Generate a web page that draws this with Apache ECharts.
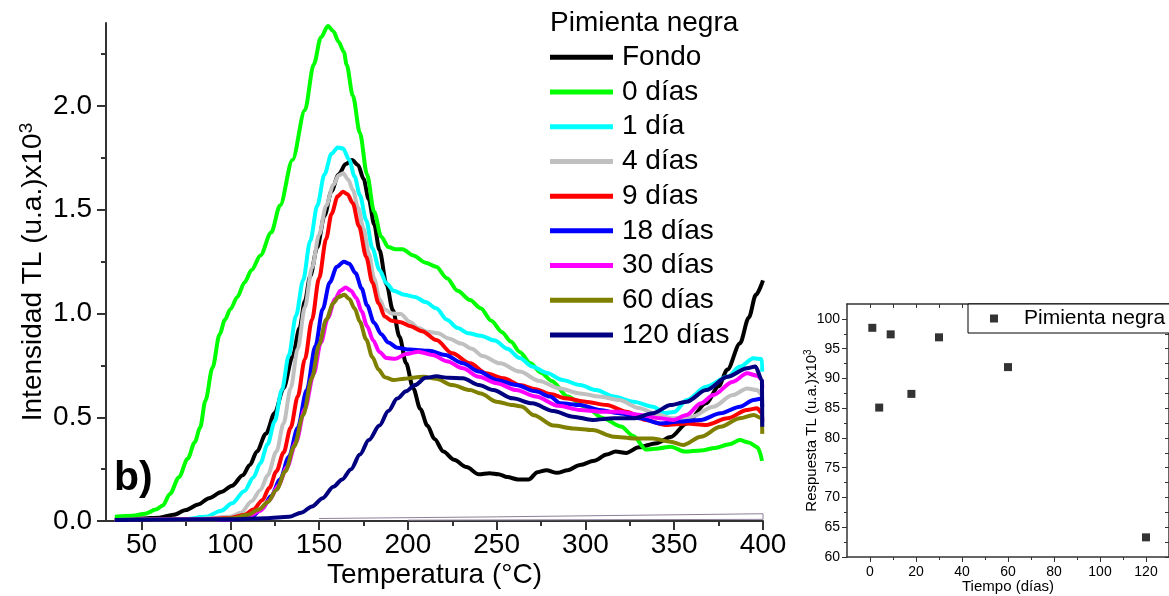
<!DOCTYPE html>
<html>
<head>
<meta charset="utf-8">
<script src="https://cdn.jsdelivr.net/npm/echarts@6/dist/echarts.min.js"></script>
<style>
  html, body { margin: 0; padding: 0; background: #ffffff; }
  #chart { width: 1169px; height: 596px; }
</style>
</head>
<body>
<div id="chart"></div>
<script>
// ---- Glow curves (temperature °C, intensity x10^3) ----
const seriesNames = ['Fondo', '0 días', '1 día', '4 días', '9 días', '18 días', '30 días', '60 días', '120 días'];
const seriesColors = ['#000000', '#00ff00', '#00ffff', '#c0c0c0', '#ff0000', '#0000ff', '#ff00ff', '#808000', '#000080'];

const fondo = [[35,0.01],[50,0.012],[60,0.016],[68,0.03],[75,0.053],[82,0.08],[88,0.11],[95,0.14],[101,0.17],[107,0.22],[111,0.27],[115,0.335],[120,0.42],[125,0.52],[130,0.64],[135,0.79],[139,0.93],[142,1.06],[145,1.18],[149,1.32],[153,1.47],[157,1.59],[161,1.67],[165,1.72],[168.5,1.74],[172,1.715],[175,1.65],[178,1.55],[181,1.43],[184,1.306],[188,1.14],[191.5,1.017],[195.3,0.888],[199,0.76],[203,0.64],[207,0.54],[211,0.46],[215,0.395],[220,0.335],[226,0.295],[233,0.26],[240,0.225],[246,0.23],[251,0.225],[256,0.212],[262,0.2],[268,0.2],[273,0.235],[278,0.245],[284,0.232],[290,0.245],[297,0.27],[305,0.29],[312,0.32],[317,0.335],[323,0.328],[330,0.355],[340,0.375],[348,0.405],[357,0.47],[368,0.567],[375,0.65],[380,0.73],[387,0.856],[392,0.98],[396,1.09],[400,1.16]];
const dias0 = [[35,0.02],[45,0.025],[52,0.035],[58,0.055],[62,0.075],[66,0.13],[71,0.21],[76,0.3],[80,0.38],[83,0.45],[86,0.58],[90,0.74],[94,0.9],[97,0.97],[100,1.02],[104,1.08],[108,1.15],[112,1.21],[117,1.28],[123,1.39],[128,1.52],[135,1.74],[142,1.98],[147,2.2],[151,2.33],[155,2.385],[158,2.36],[161,2.31],[164,2.26],[165.5,2.2],[169,2.05],[173,1.87],[177,1.67],[181,1.49],[185,1.37],[189,1.32],[193,1.31],[197,1.31],[203,1.28],[210,1.245],[216,1.225],[222,1.17],[228,1.11],[235,1.065],[241,1.025],[247,0.965],[253,0.91],[258,0.865],[263,0.815],[269,0.76],[275,0.715],[281,0.675],[290,0.6],[300,0.55],[310,0.495],[320,0.455],[327,0.41],[334,0.345],[341,0.35],[348,0.358],[356,0.335],[365,0.34],[373,0.352],[381,0.37],[387,0.39],[392,0.378],[397,0.355],[399.5,0.29]];
const dias1 = [[35,0.005],[60,0.006],[75,0.01],[86,0.02],[95,0.05],[101,0.085],[108,0.145],[113,0.21],[117,0.28],[121,0.37],[125,0.48],[129,0.63],[133,0.8],[137,0.99],[141,1.16],[145,1.35],[149,1.52],[153,1.67],[157,1.77],[160.5,1.80],[163.5,1.795],[167,1.74],[170,1.66],[173,1.57],[176.5,1.45],[180,1.315],[184,1.21],[188,1.145],[192,1.11],[198,1.09],[204,1.08],[210,1.055],[216,1.025],[222,0.97],[228,0.93],[234,0.905],[241,0.893],[249,0.87],[256,0.83],[263,0.785],[270,0.745],[278,0.715],[287,0.68],[297,0.655],[306,0.631],[316,0.6],[327,0.575],[338,0.551],[345,0.52],[350,0.525],[357,0.583],[368,0.647],[380,0.695],[387,0.744],[394.7,0.784],[399.4,0.78],[399.6,0.72]];
const dias4 = [[35,0.005],[80,0.008],[100,0.02],[106,0.04],[112,0.095],[117,0.15],[121,0.22],[126,0.335],[130,0.47],[134,0.64],[138,0.83],[142,1.03],[146,1.22],[150,1.38],[154,1.52],[158,1.62],[161,1.665],[163.5,1.676],[166.5,1.645],[169,1.595],[172,1.51],[175,1.41],[178,1.29],[181,1.17],[184,1.07],[187,1.02],[191,1.0],[196,0.998],[201,0.96],[206,0.93],[211,0.912],[217,0.905],[223,0.88],[230,0.855],[236,0.83],[242,0.795],[252,0.76],[263,0.72],[274,0.675],[285,0.64],[297,0.615],[308,0.6],[319,0.583],[330,0.545],[341,0.512],[349,0.495],[360,0.503],[372,0.551],[383,0.607],[391,0.639],[396.7,0.631],[399.5,0.607],[399.6,0.57]];
const dias9 = [[35,0.005],[80,0.006],[100,0.015],[108,0.03],[113,0.055],[118,0.1],[122,0.16],[126,0.24],[130,0.33],[134,0.45],[138,0.6],[142,0.78],[146,0.97],[150,1.17],[154,1.36],[157,1.48],[160.5,1.565],[163.5,1.587],[166,1.575],[169,1.531],[172.5,1.42],[176.5,1.274],[180,1.15],[183.5,1.05],[187,0.985],[191,0.965],[196,0.958],[201,0.94],[208,0.915],[216,0.872],[225,0.808],[235,0.76],[244,0.712],[254,0.688],[263,0.655],[272,0.635],[280,0.612],[289,0.591],[300,0.575],[312,0.559],[323,0.527],[334,0.487],[345,0.463],[357,0.47],[368,0.463],[380,0.495],[391,0.535],[396.7,0.543],[399.5,0.52],[399.6,0.48]];
const dias18 = [[35,0.005],[90,0.006],[105,0.01],[112,0.02],[118,0.06],[123,0.12],[128,0.2],[133,0.31],[138,0.45],[143,0.63],[148,0.845],[152,1.02],[156,1.15],[160,1.225],[164,1.25],[167,1.24],[170.5,1.195],[174,1.12],[177,1.04],[181,0.955],[185,0.9],[189,0.86],[194,0.835],[201,0.826],[212,0.82],[221,0.8],[231,0.76],[240,0.72],[250,0.68],[261,0.655],[272,0.625],[280,0.6],[286,0.567],[297,0.559],[308,0.535],[319,0.519],[331,0.495],[342,0.47],[353,0.479],[365,0.487],[376,0.519],[387,0.551],[394.7,0.583],[399.4,0.59],[399.6,0.55]];
const dias30 = [[35,0.005],[100,0.008],[110,0.02],[117,0.05],[122,0.1],[127,0.17],[132,0.26],[137,0.38],[142,0.54],[147,0.71],[151,0.86],[155,0.98],[159,1.07],[162,1.11],[165,1.125],[168,1.11],[171,1.075],[174,1.01],[177,0.94],[180.5,0.87],[184,0.815],[188,0.785],[193,0.782],[199,0.805],[206,0.816],[214,0.8],[222,0.77],[231,0.736],[240,0.695],[250,0.664],[261,0.631],[272,0.6],[285,0.555],[297,0.535],[308,0.527],[319,0.527],[331,0.511],[342,0.495],[349.5,0.487],[357,0.511],[365,0.567],[372,0.607],[383,0.671],[391,0.712],[396.7,0.7],[399.5,0.68],[399.6,0.64]];
const dias60 = [[35,0.005],[90,0.006],[101,0.013],[110,0.03],[116,0.055],[121,0.09],[126,0.15],[131,0.24],[136,0.36],[141,0.51],[146,0.69],[150,0.85],[154,0.97],[158,1.05],[161,1.08],[164.3,1.09],[167,1.07],[170,1.025],[173,0.96],[176.5,0.875],[180,0.79],[183.5,0.73],[187,0.693],[192,0.68],[198,0.685],[204,0.692],[209,0.695],[216,0.685],[225,0.655],[235,0.631],[241,0.615],[250,0.575],[259,0.559],[264,0.552],[271,0.51],[282,0.46],[293,0.446],[304,0.438],[316,0.406],[327,0.398],[338,0.398],[348,0.382],[355,0.366],[365,0.406],[376,0.454],[387,0.495],[394.7,0.511],[399.4,0.495],[399.6,0.42]];
const dias120 = [[35,0.005],[100,0.008],[120,0.013],[133,0.02],[140,0.04],[146,0.07],[152,0.11],[158,0.165],[163,0.2],[168,0.25],[173,0.32],[178,0.39],[184,0.46],[189,0.53],[194,0.59],[199,0.625],[204,0.655],[210,0.69],[216,0.697],[223,0.69],[231,0.688],[240,0.655],[248,0.631],[259,0.591],[270,0.567],[282,0.53],[293,0.503],[304,0.487],[316,0.495],[327,0.495],[338,0.519],[348,0.559],[357,0.575],[368,0.631],[380,0.695],[391,0.736],[395.7,0.744],[399.4,0.68],[399.6,0.454]];
// faint reference outline along the baseline
const baseOutline = [[150,0.012],[250,0.02],[330,0.028],[400,0.035],[400,0.008],[300,0.006],[200,0.004]];

const curves = [fondo, dias0, dias1, dias4, dias9, dias18, dias30, dias60, dias120];

// ---- Inset: TL response vs storage time ----
const insetLabel = 'Pimienta negra';
const insetDays = [1, 4, 9, 18, 30, 60, 120];
const insetResp = [98.5, 85.1, 97.4, 87.4, 96.9, 91.9, 63.3];

// ---- Tick positions ----
const tempTicks = [50, 100, 150, 200, 250, 300, 350, 400];
const tempMinor = [75, 125, 175, 225, 275, 325, 375];
const intTicks = [0, 0.5, 1.0, 1.5, 2.0];
const intMinor = [0.25, 0.75, 1.25, 1.75, 2.25];
const dayTicks = [0, 20, 40, 60, 80, 100, 120];
const dayMinor = [10, 30, 50, 70, 90, 110];
const respTicks = [60, 65, 70, 75, 80, 85, 90, 95, 100];
const respMinor = [62.5, 67.5, 72.5, 77.5, 82.5, 87.5, 92.5, 97.5];

const FONT = '"Liberation Sans", Arial, sans-serif';
const AX = '#333333';

// value axis with shared defaults; the axis line never snaps to zero
function axisBase(extra) {
  const ax = Object.assign({
    type: 'value',
    splitLine: { show: false },
    axisLine: { show: true, lineStyle: { color: AX, width: 2 } },
    axisTick: { show: true, inside: false, lineStyle: { color: AX, width: 2 } },
    axisLabel: { show: false },
    minorTick: { show: false },
    nameMoveOverlap: false
  }, extra);
  ax.axisLine = Object.assign({}, ax.axisLine, { onZero: false });
  return ax;
}

const chart = echarts.init(document.getElementById('chart'), null, { renderer: 'canvas' });

const mainSeries = curves.map((d, i) => ({
  name: seriesNames[i],
  type: 'line',
  xAxisIndex: 0,
  yAxisIndex: 0,
  data: d,
  color: seriesColors[i],
  showSymbol: false,
  smooth: 0.3,
  smoothMonotone: 'x',
  lineStyle: { width: 4, color: seriesColors[i] },
  z: 2 + i,
  animation: false
}));

const option = {
  animation: false,
  backgroundColor: '#ffffff',
  textStyle: { fontFamily: FONT },
  title: {
    text: 'Pimienta negra',
    left: 550, top: 9, padding: 0,
    textStyle: { fontFamily: FONT, fontSize: 28, fontWeight: 'normal', color: '#000' }
  },
  legend: [{
    data: seriesNames,
    orient: 'vertical',
    left: 550, top: 40,
    padding: 0,
    itemGap: 0,
    icon: 'rect',
    itemWidth: 63, itemHeight: 5,
    textStyle: { fontFamily: FONT, fontSize: 28, color: '#000', lineHeight: 34.7, padding: [0, 0, 0, 4] }
  }, {
    data: [insetLabel],
    orient: 'horizontal',
    left: 968, top: 304,
    padding: [4, 12, 4, 22],
    borderColor: '#000', borderWidth: 1,
    backgroundColor: '#fff',
    icon: 'rect',
    itemWidth: 8, itemHeight: 8,
    textStyle: { fontFamily: FONT, fontSize: 21, color: '#000', lineHeight: 21, padding: [0, 0, 0, 21] }
  }],
  grid: [
    { left: 106, top: 23, width: 657, height: 498, containLabel: false },
    { left: 847, top: 304, width: 323, height: 253, containLabel: false }
  ],
  xAxis: [
    axisBase({
      gridIndex: 0, min: 30, max: 400, position: 'bottom',
      name: 'Temperatura (°C)', nameLocation: 'middle', nameGap: 40,
      nameTextStyle: { fontFamily: FONT, fontSize: 28, color: '#000' },
      axisTick: { show: true, length: 9, customValues: tempTicks, lineStyle: { color: AX, width: 2 } },
      axisLabel: { show: true, customValues: tempTicks, margin: 10, fontFamily: FONT, fontSize: 28, color: '#000' }
    }),
    axisBase({
      gridIndex: 0, min: 30, max: 400, position: 'bottom',
      axisLine: { show: false },
      axisTick: { show: true, length: 5, customValues: tempMinor, lineStyle: { color: AX, width: 2 } }
    }),
    axisBase({
      gridIndex: 1, min: -10, max: 130, position: 'bottom',
      name: 'Tiempo (días)', nameLocation: 'middle', nameGap: 22,
      nameTextStyle: { fontFamily: FONT, fontSize: 15, color: '#000' },
      axisLine: { show: true, lineStyle: { color: AX, width: 1.5 } },
      axisTick: { show: true, length: 5, customValues: dayTicks, lineStyle: { color: AX, width: 1 } },
      axisLabel: { show: true, customValues: dayTicks, margin: 8, fontFamily: FONT, fontSize: 14, color: '#000' }
    }),
    axisBase({
      gridIndex: 1, min: -10, max: 130, position: 'bottom',
      axisLine: { show: false },
      axisTick: { show: true, length: 3, customValues: dayMinor, lineStyle: { color: AX, width: 1 } }
    }),
    axisBase({
      gridIndex: 1, min: -10, max: 130, position: 'top',
      axisLine: { show: true, lineStyle: { color: AX, width: 1.5 } },
      axisTick: { show: true, inside: true, length: 4, customValues: dayTicks.concat(dayMinor), lineStyle: { color: AX, width: 1 } }
    })
  ],
  yAxis: [
    axisBase({
      gridIndex: 0, min: 0, max: 2.4, position: 'left',
      name: '{a|Intensidad TL (u.a.)x10}{s|3}', nameLocation: 'middle', nameGap: 57, nameRotate: 90,
      nameTextStyle: {
        fontFamily: FONT, color: '#000',
        rich: {
          a: { fontFamily: FONT, fontSize: 28, color: '#000', lineHeight: 32 },
          s: { fontFamily: FONT, fontSize: 19, color: '#000', lineHeight: 20, verticalAlign: 'top' }
        }
      },
      axisTick: { show: true, length: 9, customValues: intTicks, lineStyle: { color: AX, width: 2 } },
      axisLabel: {
        show: true, customValues: intTicks, margin: 14, fontFamily: FONT, fontSize: 28, color: '#000',
        formatter: v => Number(v).toFixed(1)
      }
    }),
    axisBase({
      gridIndex: 0, min: 0, max: 2.4, position: 'left',
      axisLine: { show: false },
      axisTick: { show: true, length: 5, customValues: intMinor, lineStyle: { color: AX, width: 2 } }
    }),
    axisBase({
      gridIndex: 1, min: 60, max: 102.5, position: 'left',
      name: '{a|Respuesta TL (u.a.)x10}{s|3}', nameLocation: 'middle', nameGap: 26, nameRotate: 90,
      nameTextStyle: {
        fontFamily: FONT, color: '#000',
        rich: {
          a: { fontFamily: FONT, fontSize: 15, color: '#000', lineHeight: 18 },
          s: { fontFamily: FONT, fontSize: 10, color: '#000', lineHeight: 11, verticalAlign: 'top' }
        }
      },
      axisLine: { show: true, lineStyle: { color: AX, width: 1.5 } },
      axisTick: { show: true, length: 5, customValues: respTicks, lineStyle: { color: AX, width: 1 } },
      axisLabel: { show: true, customValues: respTicks, margin: 7, fontFamily: FONT, fontSize: 14, color: '#000' }
    }),
    axisBase({
      gridIndex: 1, min: 60, max: 102.5, position: 'left',
      axisLine: { show: false },
      axisTick: { show: true, length: 3, customValues: respMinor, lineStyle: { color: AX, width: 1 } }
    }),
    axisBase({
      gridIndex: 1, min: 60, max: 102.5, position: 'right',
      axisLine: { show: true, lineStyle: { color: AX, width: 1.5 } },
      axisTick: { show: true, inside: true, length: 4, customValues: respTicks.concat(respMinor), lineStyle: { color: AX, width: 1 } }
    })
  ],
  graphic: [{
    type: 'text',
    left: 114, top: 458,
    style: { text: 'b)', font: 'bold 41px "Liberation Sans", Arial, sans-serif', fill: '#000' },
    z: 100
  }],
  series: [{
    name: 'base',
    type: 'line',
    xAxisIndex: 0, yAxisIndex: 0,
    data: baseOutline,
    showSymbol: false,
    silent: true,
    lineStyle: { width: 1, color: '#8c7f9a' },
    z: 1
  }].concat(mainSeries).concat([{
    name: insetLabel,
    type: 'scatter',
    xAxisIndex: 2, yAxisIndex: 2,
    data: insetDays.map((d, i) => [d, insetResp[i]]),
    symbol: 'rect',
    symbolSize: 8,
    color: '#000000',
    itemStyle: { color: '#000000' }
  }])
};

chart.setOption(option);
</script>
</body>
</html>
